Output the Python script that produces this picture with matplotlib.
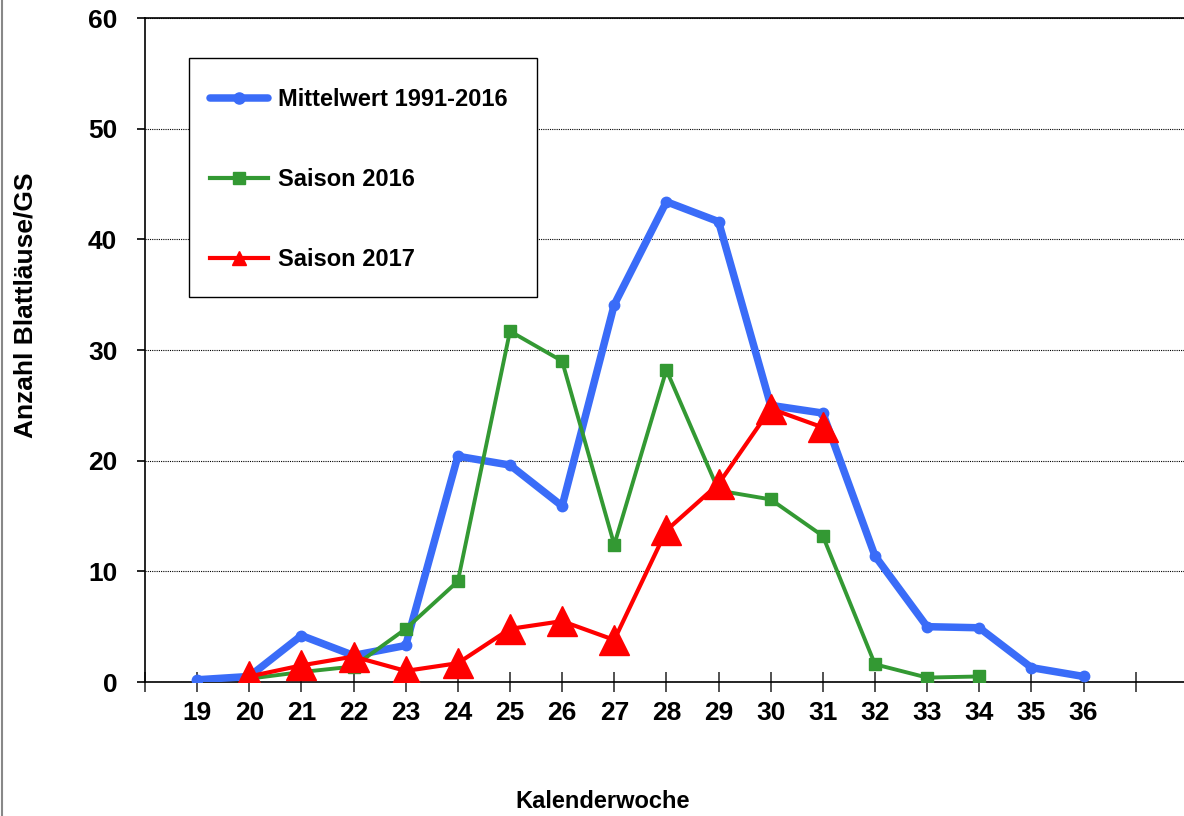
import matplotlib
matplotlib.use("Agg")
import matplotlib.pyplot as plt
from matplotlib.lines import Line2D
from matplotlib.patches import Rectangle

plt.rcParams['font.family'] = ['Liberation Sans', 'DejaVu Sans']
plt.rcParams['font.weight'] = 'bold'

weeks_mean = [19, 20, 21, 22, 23, 24, 25, 26, 27, 28, 29, 30, 31, 32, 33, 34, 35, 36]
mean_vals = [0.2, 0.5, 4.2, 2.4, 3.3, 20.4, 19.6, 15.9, 34.1, 43.4, 41.6, 25.0, 24.3, 11.4, 5.0, 4.9, 1.3, 0.5]

weeks_2016 = [20, 21, 22, 23, 24, 25, 26, 27, 28, 29, 30, 31, 32, 33, 34]
vals_2016 = [0.3, 0.9, 1.4, 4.8, 9.1, 31.7, 29.0, 12.4, 28.2, 17.3, 16.5, 13.2, 1.6, 0.4, 0.5]

weeks_2017 = [20, 21, 22, 23, 24, 25, 26, 27, 28, 29, 30, 31]
vals_2017 = [0.5, 1.5, 2.3, 1.0, 1.7, 4.8, 5.5, 3.8, 13.7, 17.9, 24.7, 23.0]

labels = ["Mittelwert 1991-2016", "Saison 2016", "Saison 2017"]
xtick_labels = [str(w) for w in range(19, 37)]

c_blue = "#3A6CF8"
c_green = "#339933"
c_red = "#FF0000"

W, H = 1184, 816
fig = plt.figure(figsize=(W/100, H/100), dpi=100)
ax = fig.add_axes([145/W, 1-682/H, 1-145/W, (682-18)/H])

ax.plot(weeks_mean, mean_vals, color=c_blue, lw=5.4, marker='o', ms=7.5,
        solid_capstyle='round', solid_joinstyle='round', zorder=3)
ax.plot(weeks_2016, vals_2016, color=c_green, lw=2.8, marker='s', ms=8, zorder=4)
ax.plot(weeks_2017, vals_2017, color=c_red, lw=3.0, marker='^', ms=21, zorder=5)

ax.set_xlim(18, 18 + (W-145)/52.14)
ax.set_ylim(0, 60)
ax.set_yticks(range(0, 61, 10))
ax.set_xticks(range(18, 38))
ax.set_xticklabels([""] + xtick_labels + [""])

ax.yaxis.grid(True, linestyle=(0, (1, 1)), color='black', lw=0.8)
ax.set_axisbelow(True)

for s in ['left', 'bottom', 'top']:
    ax.spines[s].set_color('black')
    ax.spines[s].set_linewidth(1.2)
ax.spines['right'].set_visible(False)

ax.tick_params(axis='y', direction='out', length=6, width=1.2, labelsize=19, pad=14)
ax.tick_params(axis='x', direction='inout', length=14, width=1.2, labelsize=19, pad=7, color='#333333')
for t in ax.get_xticklabels() + ax.get_yticklabels():
    t.set_fontweight('bold')

fig.text(603/W, 1-802/H, "Kalenderwoche", fontsize=17, fontweight='bold',
         ha='center', va='center')
fig.text(26/W, 1-305/H, "Anzahl Blattläuse/GS", rotation=90, fontsize=19,
         fontweight='bold', ha='center', va='center')

# legend frame
fig.add_artist(Rectangle((189/W, 1-297/H), (537-189)/W, (297-58)/H,
                         transform=fig.transFigure, facecolor='white',
                         edgecolor='black', lw=1.0, zorder=6))

handles = [
    Line2D([], [], color=c_blue, lw=5.4, marker='o', ms=8, solid_capstyle='round'),
    Line2D([], [], color=c_green, lw=3.0, marker='s', ms=8),
    Line2D([], [], color=c_red, lw=3.0, marker='^', ms=10),
]
leg = fig.legend(handles, labels, loc='upper left',
                 bbox_to_anchor=(210/W, 1-88/H),
                 prop={'weight': 'bold', 'size': 17}, frameon=False,
                 handlelength=2.45, handletextpad=0.42,
                 labelspacing=2.42, borderpad=0, borderaxespad=0)
leg.set_zorder(7)

fig.add_artist(Line2D([0.0015, 0.0015], [0, 1], color='#888888', lw=1.5, transform=fig.transFigure))

fig.savefig("out.png", dpi=100)
